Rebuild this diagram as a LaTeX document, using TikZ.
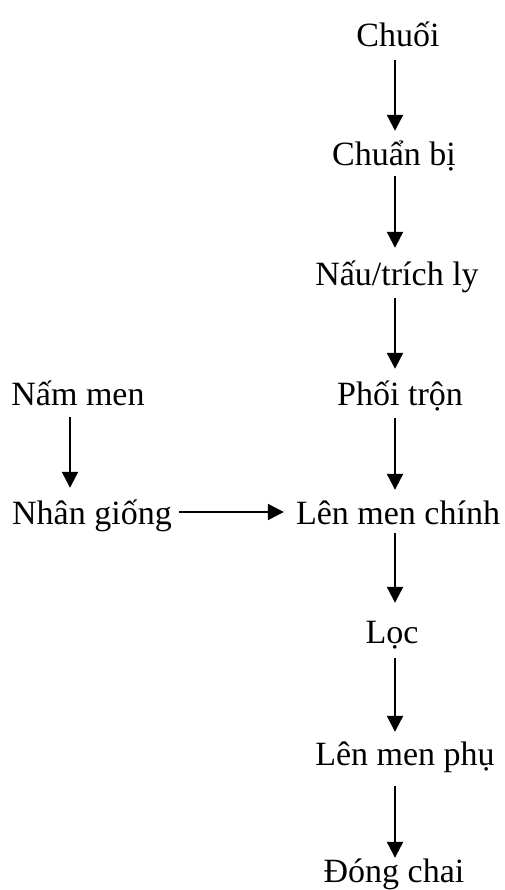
\documentclass[tikz,border=0pt]{standalone}
\usepackage{fontspec}
\setmainfont{Liberation Serif}
\usetikzlibrary{arrows.meta}
\tikzset{
  lbl/.style={inner sep=0pt, text height=23pt, text depth=7pt, anchor=base, font=\fontsize{34}{40}\selectfont},
  arr/.style={line width=2.2pt, -{Triangle[width=16pt,length=16pt]}}
}
\begin{document}
\begin{tikzpicture}[x=1pt,y=-1pt]
\useasboundingbox (0,0) rectangle (504,890);
\coordinate (ax) at (395,0);
\coordinate (bx) at (70,0);
\node[lbl] (c1) at (398,47) {Chuối};
\node[lbl] (c2) at (394,166) {Chuẩn bị};
\node[lbl] (c3) at (397,285) {Nấu/trích ly};
\node[lbl] (c4) at (400,405) {Phối trộn};
\node[lbl] (c5) at (398,524) {Lên men chính};
\node[lbl] (c6) at (392,643) {Lọc};
\node[lbl] (c7) at (405,765) {Lên men phụ};
\node[lbl] (c8) at (394,882) {Đóng chai};
\node[lbl] (n1) at (78,405) {Nấm men};
\node[lbl, anchor=base west] (n2) at (12,524) {Nhân giống};
\draw[arr, shorten <=6pt, shorten >=12pt] (c1.south -| ax) -- (c2.north -| ax);
\draw[arr, shorten <=3pt, shorten >=14pt] (c2.south -| ax) -- (c3.north -| ax);
\draw[arr, shorten <=6pt, shorten >=13pt] (c3.south -| ax) -- (c4.north -| ax);
\draw[arr, shorten <=6pt, shorten >=11pt] (c4.south -| ax) -- (c5.north -| ax);
\draw[arr, shorten <=2pt, shorten >=17pt] (c5.south -| ax) -- (c6.north -| ax);
\draw[arr, shorten <=8pt, shorten >=10pt] (c6.south -| ax) -- (c7.north -| ax);
\draw[arr, shorten <=14pt, shorten >=1pt] (c7.south -| ax) -- (c8.north -| ax);
\draw[arr, shorten <=5pt, shorten >=13pt] (n1.south -| bx) -- (n2.north -| bx);
\draw[arr, shorten <=7pt, shorten >=12pt] ([yshift=4pt]n2.east) -- ([yshift=4pt]c5.west);
\end{tikzpicture}
\end{document}
